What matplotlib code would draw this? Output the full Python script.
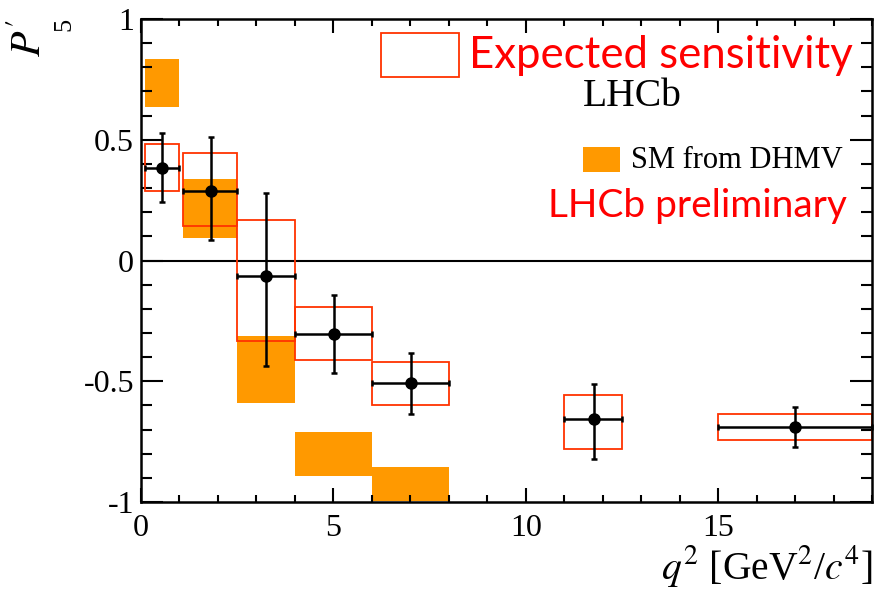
import matplotlib
matplotlib.use('Agg')
import matplotlib.pyplot as plt
from matplotlib.ticker import MultipleLocator
from matplotlib.patches import Rectangle

plt.rcParams['font.family'] = 'Liberation Serif'
plt.rcParams['mathtext.fontset'] = 'stix'
plt.rcParams['axes.unicode_minus'] = False

# q2 bins (GeV^2/c^4)
bin_lo = [0.1, 1.1, 2.5, 4.0, 6.0, 11.0, 15.0]
bin_hi = [0.98, 2.5, 4.0, 6.0, 8.0, 12.5, 19.0]
q2_center = [0.55, 1.81, 3.26, 5.01, 7.01, 11.77, 17.0]

# measured P'5 with asymmetric errors
p5 = [0.385, 0.286, -0.066, -0.303, -0.508, -0.658, -0.689]
err_up = [0.145, 0.226, 0.345, 0.162, 0.126, 0.146, 0.083]
err_dn = [0.143, 0.203, 0.370, 0.163, 0.126, 0.162, 0.083]

# expected sensitivity boxes
exp_lo = [0.288, 0.144, -0.333, -0.412, -0.599, -0.781, -0.743]
exp_hi = [0.484, 0.447, 0.167, -0.194, -0.419, -0.556, -0.635]

# SM prediction (DHMV), first five bins only
sm_lo = [0.636, 0.093, -0.592, -0.892, -0.996]
sm_hi = [0.834, 0.336, -0.311, -0.710, -0.855]

orange = '#ff9900'
boxred = '#ff3300'

fig = plt.figure(figsize=(8.75, 5.92), dpi=100)
ax = fig.add_axes([141/875, 1 - 502/592, 731/875, 483/592])

n_sm = len(sm_lo)
ax.bar(bin_lo[:n_sm], [h - l for h, l in zip(sm_hi, sm_lo)],
       width=[h - l for h, l in zip(bin_hi[:n_sm], bin_lo[:n_sm])],
       bottom=sm_lo, align='edge', color=orange, linewidth=0, zorder=1)

ax.bar(bin_lo, [h - l for h, l in zip(exp_hi, exp_lo)],
       width=[h - l for h, l in zip(bin_hi, bin_lo)],
       bottom=exp_lo, align='edge', facecolor='none', edgecolor=boxred,
       linewidth=1.3, zorder=2)

ax.axhline(0, color='black', linewidth=1.5, zorder=1.5)

xerr = [[c - l for c, l in zip(q2_center, bin_lo)],
        [h - c for h, c in zip(bin_hi, q2_center)]]
ax.errorbar(q2_center, p5, xerr=xerr, yerr=[err_dn, err_up], fmt='o',
            color='black', markersize=8, elinewidth=1.8, capsize=2.5,
            capthick=1.8, zorder=3, clip_on=False)

ax.set_xlim(0, 19)
ax.set_ylim(-1, 1)
ax.xaxis.set_major_locator(MultipleLocator(5))
ax.xaxis.set_minor_locator(MultipleLocator(1))
ax.yaxis.set_major_locator(MultipleLocator(0.5))
ax.yaxis.set_minor_locator(MultipleLocator(0.1))
ax.yaxis.set_major_formatter(matplotlib.ticker.FuncFormatter(
    lambda v, p: '%g' % v))
ax.tick_params(axis='both', which='both', direction='in', top=True,
               right=True, width=1.5, labelsize=23, colors='black')
ax.tick_params(axis='x', which='major', length=10, pad=9)
ax.tick_params(axis='x', which='minor', length=5)
ax.tick_params(axis='y', which='major', length=16, pad=5)
ax.tick_params(axis='y', which='minor', length=8)
for s in ax.spines.values():
    s.set_linewidth(1.8)

# legend entries drawn by hand, like the ROOT original
ax.add_patch(Rectangle((381/875, 1 - 77/592), 78/875, 44/592,
                       transform=fig.transFigure, facecolor='none',
                       edgecolor=boxred, linewidth=1.3, clip_on=False))
fig.text(853/875, 1 - 55/592, 'Expected sensitivity', color='red',
         family='Lato', fontsize=31.5, ha='right', va='center')
fig.text(632/875, 1 - 97/592, 'LHCb', color='black', fontsize=28.5,
         ha='center', va='center')
ax.add_patch(Rectangle((583/875, 1 - 172/592), 37/875, 25/592,
                       transform=fig.transFigure, facecolor=orange,
                       linewidth=0, clip_on=False))
fig.text(843/875, 1 - 160/592, 'SM from DHMV', color='black', fontsize=22,
         ha='right', va='center')
fig.text(847/875, 1 - 206/592, 'LHCb preliminary', color='red',
         family='Lato', fontsize=28, ha='right', va='center')

# axis titles
fig.text(31/875, 1 - 38/592, r"$P'$", rotation=90, fontsize=30,
         ha='center', va='center')
fig.text(64/875, 1 - 24/592, '5', rotation=90, fontsize=19,
         ha='center', va='center')
fig.text(872/875, 1 - 566/592, r'$q^2$ [GeV$^2$/$c^4$]', fontsize=28.5,
         ha='right', va='center')

plt.savefig('out.png', dpi=100)
